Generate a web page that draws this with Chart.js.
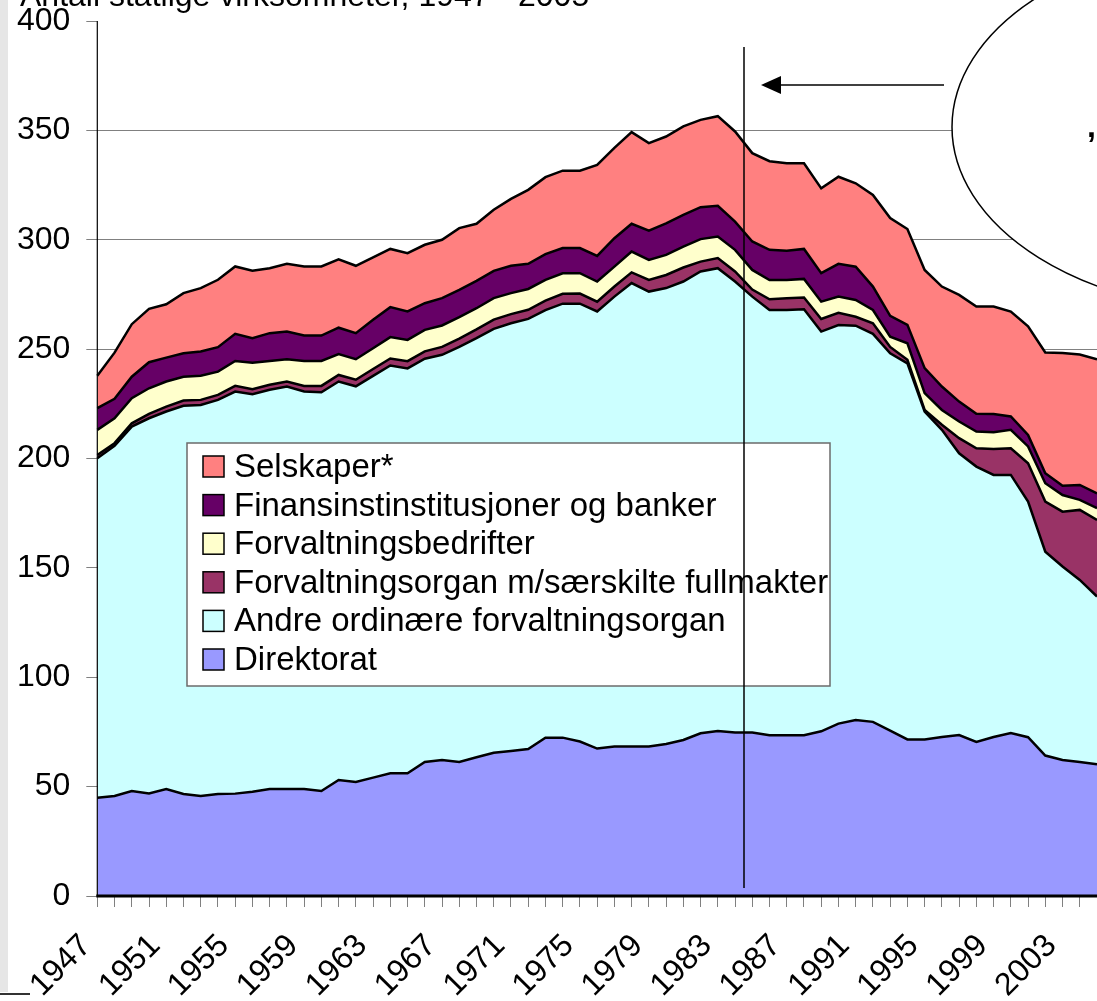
<!DOCTYPE html>
<html>
<head>
<meta charset="utf-8">
<script src="https://cdn.jsdelivr.net/npm/chart.js@4.4.0/dist/chart.umd.min.js"></script>
<style>
html, body { margin: 0; padding: 0; background: #fff; overflow: hidden; }
#wrap { position: relative; width: 1097px; height: 1001px; }
</style>
</head>
<body>
<div id="wrap"><canvas id="chart" width="1097" height="1001"></canvas></div>
<script>
const years = ['1947','1948','1949','1950','1951','1952','1953','1954','1955','1956',
    '1957','1958','1959','1960','1961','1962','1963','1964','1965','1966',
    '1967','1968','1969','1970','1971','1972','1973','1974','1975','1976',
    '1977','1978','1979','1980','1981','1982','1983','1984','1985','1986',
    '1987','1988','1989','1990','1991','1992','1993','1994','1995','1996',
    '1997','1998','1999','2000','2001','2002','2003','2004','2005'];

// stacked from the bottom up
const direktorat = [44.9,45.7,48.0,46.9,48.9,46.6,45.7,46.6,46.8,47.7,
    48.9,48.9,48.9,48.0,53.0,52.1,54.1,56.1,56.1,61.3,
    62.2,61.3,63.4,65.5,66.3,67.2,72.4,72.4,70.6,67.4,
    68.3,68.3,68.3,69.5,71.3,74.4,75.4,74.7,74.7,73.5,
    73.5,73.5,75.3,78.8,80.5,79.6,75.6,71.6,71.6,72.7,
    73.6,70.4,72.7,74.5,72.6,64.2,62.2,61.3,60.2];
const andre = [155.2,160.1,166.6,171.5,172.6,177.5,178.8,180.2,183.8,181.7,
    182.5,184.0,181.7,182.3,182.2,180.9,183.7,186.4,185.1,184.3,
    185.2,189.7,191.6,193.8,195.5,196.6,195.4,198.4,200.2,199.8,
    205.7,211.9,208.0,208.4,209.6,211.1,211.6,206.2,199.3,194.4,
    194.4,194.7,182.7,182.2,180.2,177.4,172.5,171.9,149.8,140.4,
    128.8,125.9,119.8,118.0,107.7,93.2,88.4,83.2,76.7];
const saerskilte = [1.5,1.2,1.5,2.0,2.2,2.4,2.3,2.3,2.6,2.3,
    2.3,2.3,2.6,2.9,3.0,3.0,3.1,3.2,3.3,3.4,
    3.6,3.8,4.0,4.2,4.2,4.2,4.4,4.5,4.6,4.5,
    4.6,4.9,5.3,6.0,6.4,4.5,4.6,4.6,3.2,4.9,
    5.4,5.4,5.8,5.6,4.1,4.8,2.9,1.6,0.8,2.3,
    6.9,8.4,11.9,12.2,17.5,22.9,25.1,32.0,35.0];
const bedrifter = [11.5,11.4,11.5,11.7,11.5,10.9,11.0,10.6,11.4,12.1,
    10.9,10.2,11.4,11.4,9.5,9.4,9.5,9.8,9.7,9.8,
    9.8,9.8,9.7,9.8,9.6,9.5,9.5,9.4,9.3,9.2,
    9.1,9.5,9.2,9.2,9.6,10.3,9.9,9.9,9.0,8.8,
    8.3,8.5,7.9,7.4,7.7,6.1,4.7,7.6,7.7,6.8,
    7.6,7.6,7.6,8.4,7.7,8.4,7.6,4.6,5.4];
const finans = [9.9,8.9,9.8,11.9,10.9,10.7,11.1,11.2,12.4,11.2,
    12.7,12.6,11.6,11.6,12.1,11.9,13.0,13.7,13.0,12.2,
    12.5,12.5,12.5,12.5,12.5,11.5,11.7,11.5,11.5,11.7,
    13.0,12.7,13.4,14.4,14.5,14.6,14.0,12.9,13.0,13.8,
    13.4,13.7,13.0,15.0,15.2,10.7,9.5,8.4,11.4,10.7,
    9.1,8.1,8.3,6.1,5.3,4.6,4.2,6.8,6.8];
const selskaper = [14.8,21.1,24.0,24.4,24.4,27.5,29.0,30.8,30.8,30.8,
    29.7,31.0,31.6,31.6,31.2,30.8,28.5,26.6,26.7,26.7,
    26.7,28.2,26.1,27.9,30.6,33.8,35.2,35.4,35.4,41.6,
    41.3,41.9,40.0,39.7,40.4,39.9,41.0,41.2,40.4,40.5,
    40.0,39.2,38.8,39.8,38.1,41.9,44.7,43.8,44.9,45.7,
    48.8,49.1,49.2,48.0,49.6,55.2,60.7,59.6,61.3];

const seriesNames = ['Direktorat', 'Andre ordinære forvaltningsorgan',
    'Forvaltningsorgan m/særskilte fullmakter', 'Forvaltningsbedrifter',
    'Finansinstinstitusjoner og banker', 'Selskaper*'];
const seriesData = [direktorat, andre, saerskilte, bedrifter, finans, selskaper];
const seriesColors = ['#9999FF', '#CCFFFF', '#993366', '#FFFFCC', '#660066', '#FF8080'];

const FONT = '"Liberation Sans", Arial, sans-serif';
Chart.defaults.font.family = FONT;
Chart.defaults.font.size = 32;
Chart.defaults.color = '#000';

// extra drawing: axis lines, legend box, line + arrow, ellipse, frame bits
const decor = {
    id: 'decor',
    afterDatasetsDraw(chart) {
        const ctx = chart.ctx, a = chart.chartArea;
        ctx.save();
        ctx.strokeStyle = '#000';
        ctx.lineWidth = 1.2;
        ctx.beginPath();
        ctx.moveTo(a.left, a.top);
        ctx.lineTo(a.left, a.bottom);
        ctx.stroke();
        ctx.lineWidth = 3;
        ctx.beginPath();
        ctx.moveTo(a.left - 1, a.bottom);
        ctx.lineTo(a.right + 3, a.bottom);
        ctx.stroke();
        ctx.restore();
    },
    afterDraw(chart) {
        const ctx = chart.ctx;
        ctx.save();

        // legend
        ctx.fillStyle = '#fff';
        ctx.fillRect(187, 443, 643, 243);
        ctx.strokeStyle = '#6b6b6b';
        ctx.lineWidth = 1.5;
        ctx.strokeRect(187, 443, 643, 243);
        ctx.font = '33px ' + FONT;
        ctx.textBaseline = 'middle';
        ctx.textAlign = 'left';
        for (let k = 0; k < 6; k++) {
            const i = 5 - k;
            const cy = 466 + k * 38.6;
            ctx.fillStyle = seriesColors[i];
            ctx.fillRect(203, cy - 10, 21, 21);
            ctx.strokeStyle = '#000';
            ctx.lineWidth = 1.5;
            ctx.strokeRect(203, cy - 10, 21, 21);
            ctx.fillStyle = '#000';
            ctx.fillText(seriesNames[i], 234, cy + 2);
        }

        // vertical marker line
        ctx.strokeStyle = '#000';
        ctx.lineWidth = 1.5;
        ctx.beginPath();
        ctx.moveTo(744, 47);
        ctx.lineTo(744, 888);
        ctx.stroke();

        // arrow
        ctx.beginPath();
        ctx.moveTo(944, 85);
        ctx.lineTo(778, 85);
        ctx.stroke();
        ctx.fillStyle = '#000';
        ctx.beginPath();
        ctx.moveTo(761, 85);
        ctx.lineTo(781, 76);
        ctx.lineTo(781, 94);
        ctx.closePath();
        ctx.fill();

        // ellipse
        ctx.fillStyle = '#fff';
        ctx.beginPath();
        ctx.ellipse(1249, 127, 297, 185, 0, 0, Math.PI * 2);
        ctx.fill();
        ctx.lineWidth = 1.5;
        ctx.stroke();
        ctx.fillStyle = '#000';
        ctx.font = 'bold 32px ' + FONT;
        ctx.fillText(',', 1087, 128);

        // cut-off title at the very top
        ctx.font = '32px ' + FONT;
        ctx.textBaseline = 'alphabetic';
        ctx.fillText('Antall statlige virksomheter, 1947 - 2005', 20, 6);

        // slide frame remnants on the left
        ctx.fillStyle = '#e6e6e6';
        ctx.fillRect(0, 0, 8, 992);
        ctx.strokeStyle = '#333';
        ctx.lineWidth = 2;
        ctx.beginPath();
        ctx.moveTo(0, 994);
        ctx.lineTo(30, 994);
        ctx.stroke();
        ctx.restore();
    }
};

const datasets = seriesData.map((d, i) => ({
    label: seriesNames[i],
    data: d,
    backgroundColor: seriesColors[i],
    borderColor: '#000',
    borderWidth: 2.5,
    fill: i === 0 ? 'origin' : '-1',
    pointRadius: 0,
    tension: 0
}));

new Chart(document.getElementById('chart'), {
    type: 'line',
    data: { labels: years, datasets: datasets },
    options: {
        responsive: false,
        animation: false,
        devicePixelRatio: 1,
        layout: { padding: { top: 21, right: 0, left: 0, bottom: 0 } },
        plugins: { legend: { display: false }, tooltip: { enabled: false } },
        scales: {
            x: {
                offset: false,
                grid: { drawOnChartArea: false, drawTicks: true, tickLength: 11, color: '#808080' },
                border: { display: false },
                ticks: {
                    autoSkip: false, minRotation: 45, maxRotation: 45, padding: 20, labelOffset: -11,
                    callback: (v, i) => (i % 4 === 0 ? years[i] : '')
                },
                afterFit: s => { s.height = 105; s.paddingLeft = 0; s.paddingRight = 0; }
            },
            y: {
                stacked: true,
                min: 0,
                max: 400,
                grid: {
                    color: c => (c.tick.value === 400 ? 'rgba(0,0,0,0)' : '#808080'),
                    tickColor: '#808080',
                    tickLength: 11
                },
                border: { display: false },
                ticks: { stepSize: 50, padding: 16 },
                afterFit: s => { s.width = 97.3; s.paddingTop = 0; s.paddingBottom = 0; }
            }
        }
    },
    plugins: [decor]
});
</script>
</body>
</html>
